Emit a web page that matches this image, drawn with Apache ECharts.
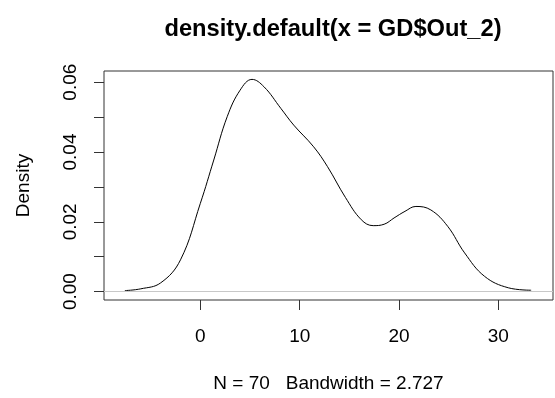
<!DOCTYPE html>
<html>
<head>
<meta charset="utf-8">
<script src="https://cdn.jsdelivr.net/npm/echarts@6/dist/echarts.min.js"></script>
<style>
  html, body { margin: 0; padding: 0; background: #fff; }
  #chart { width: 555px; height: 398px; }
</style>
</head>
<body>
<div id="chart"></div>
<script>
// density estimate
const xValues = [-7.6, -6, -4, -2, 0, 1.35, 2.7, 4.0, 5.2, 6.4, 8.1, 9.4, 11.4, 12.8, 14.6, 16.2, 17.4, 18.5, 19.5, 20.6, 21.7, 23.2, 24.9, 26.6, 28.6, 31.0, 33.3]
const densityValues = [0.0003, 0.0008, 0.0025, 0.0091, 0.0253, 0.0377, 0.0501, 0.0577, 0.0608, 0.0587, 0.0525, 0.0477, 0.0415, 0.0358, 0.027, 0.0206, 0.0189, 0.0193, 0.0211, 0.023, 0.0244, 0.0234, 0.0187, 0.0111, 0.0044, 0.0011, 0.0004]
const xTicks = [0, 10, 20, 30]
const yTicks = [0, 0.01, 0.02, 0.03, 0.04, 0.05, 0.06]
const yLabels = [0, 0.02, 0.04, 0.06]

const font = 'Liberation Sans, Arial, sans-serif'
const chart = echarts.init(document.getElementById('chart'))

chart.setOption({
  animation: false,
  backgroundColor: '#fff',
  title: {
    text: 'density.default(x = GD$Out_2)',
    left: 328,
    top: 12,
    textAlign: 'center',
    textStyle: {
      fontFamily: font,
      fontSize: 23.7,
      fontWeight: 'bold',
      color: '#000'
    }
  },
  grid: {
    left: 104,
    right: 2,
    top: 71,
    bottom: 98,
    show: true,
    borderColor: '#333',
    borderWidth: 1
  },
  xAxis: {
    type: 'value',
    min: -9.7,
    max: 35.5,
    name: 'N = 70   Bandwidth = 2.727',
    nameLocation: 'middle',
    nameGap: 74,
    nameTextStyle: { fontFamily: font, fontSize: 19, color: '#000' },
    axisLine: { show: false, onZero: false },
    splitLine: { show: false },
    axisTick: {
      show: true,
      length: 10,
      customValues: xTicks,
      lineStyle: { color: '#333' }
    },
    axisLabel: {
      customValues: xTicks,
      margin: 27,
      fontFamily: font,
      fontSize: 19,
      color: '#000'
    }
  },
  yAxis: {
    type: 'value',
    min: -0.0024,
    max: 0.0632,
    name: 'Density',
    nameLocation: 'middle',
    nameRotate: 90,
    nameGap: 71,
    nameTextStyle: { fontFamily: font, fontSize: 19, color: '#000' },
    axisLine: { show: false, onZero: false },
    splitLine: { show: false },
    axisTick: {
      show: true,
      length: 10,
      customValues: yTicks,
      lineStyle: { color: '#333' }
    },
    axisLabel: {
      customValues: yLabels,
      rotate: 90,
      margin: 33,
      align: 'center',
      verticalAlign: 'middle',
      fontFamily: font,
      fontSize: 19,
      color: '#000',
      formatter: v => v.toFixed(2)
    }
  },
  series: [{
    type: 'line',
    data: xValues.map((x, i) => [x, densityValues[i]]),
    smooth: 0.4,
    showSymbol: false,
    lineStyle: { color: '#000', width: 1 },
    markLine: {
      silent: true,
      symbol: 'none',
      label: { show: false },
      lineStyle: { color: '#c8c8c8', width: 1, type: 'solid' },
      data: [{ yAxis: 0 }]
    }
  }]
})
</script>
</body>
</html>
